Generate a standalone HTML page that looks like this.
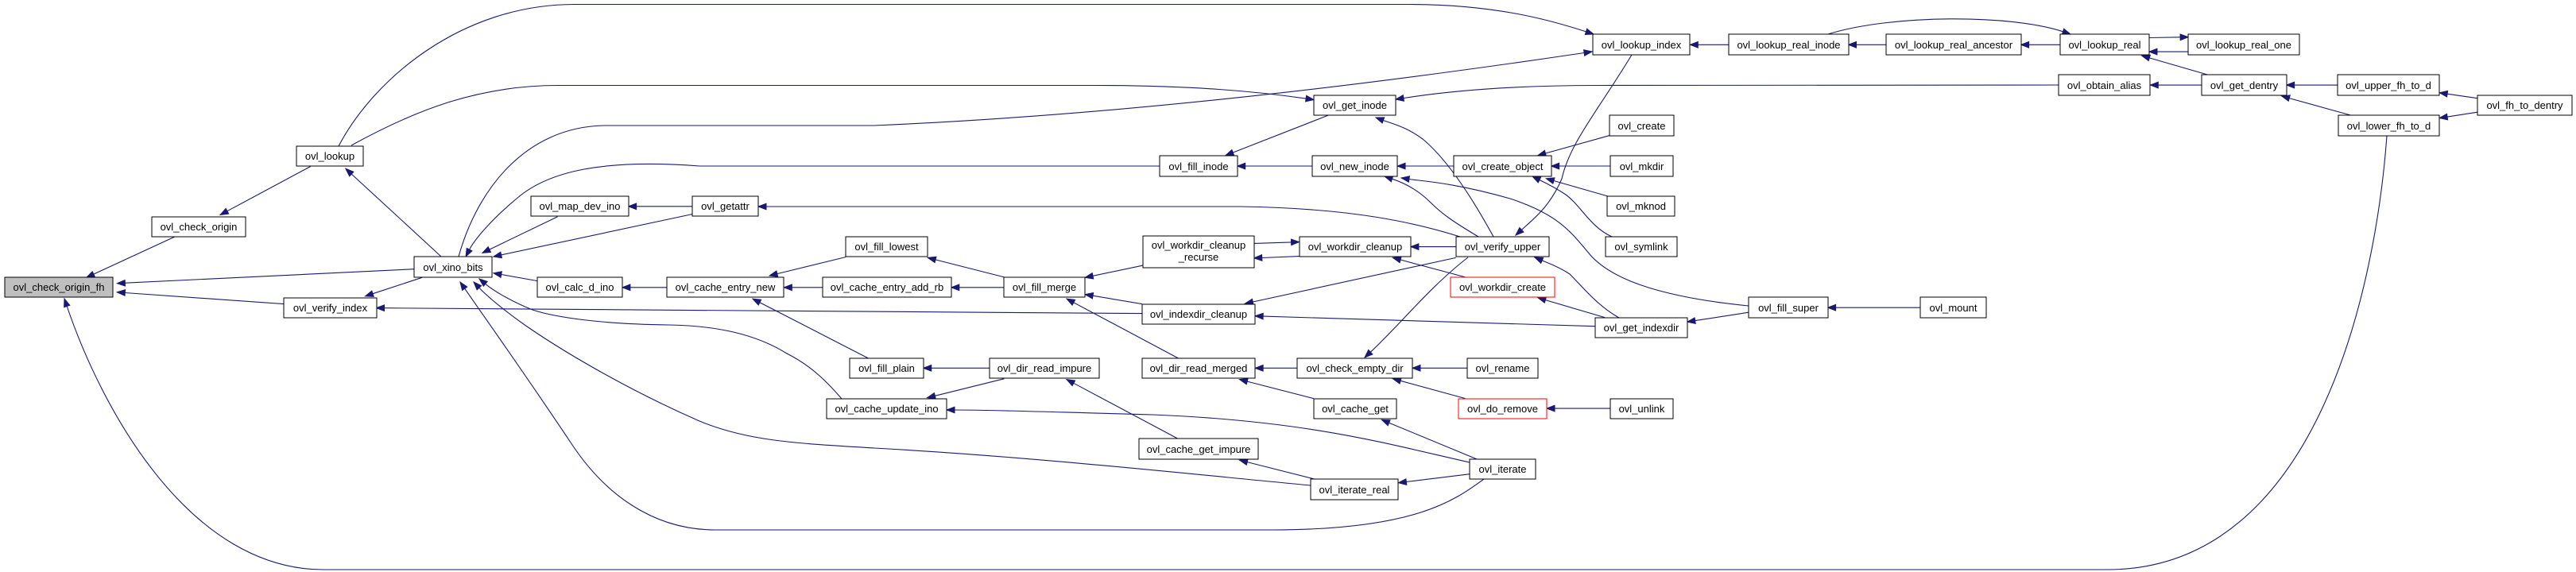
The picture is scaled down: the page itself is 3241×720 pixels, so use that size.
<!DOCTYPE html>
<html><head><meta charset="utf-8"><style>
html,body{margin:0;padding:0;background:#fff;width:3241px;height:720px;overflow:hidden}
svg{display:block}
text{font-family:"Liberation Sans",Helvetica,sans-serif;font-size:13px;fill:#000;text-anchor:middle}
rect{fill:#fff;stroke:#000;stroke-width:1}
</style></head><body>
<svg id="s" width="3241" height="720" viewBox="0 0 3241 720" xmlns="http://www.w3.org/2000/svg">
<g id="edges" fill="none" stroke="#191970" stroke-width="1.1"></g>
<g id="arrows" fill="#191970" stroke="#191970"></g>
<g id="nodes">
<rect x="6" y="349" width="136" height="25" style="fill:#bfbfbf"/><text x="74" y="366">ovl_check_origin_fh</text>
<rect x="191" y="273" width="118" height="25"/><text x="250" y="290">ovl_check_origin</text>
<rect x="373" y="184" width="84" height="25"/><text x="415" y="201">ovl_lookup</text>
<rect x="521" y="323" width="98" height="26"/><text x="570" y="341">ovl_xino_bits</text>
<rect x="357" y="375" width="117" height="25"/><text x="415.5" y="392">ovl_verify_index</text>
<rect x="668" y="247" width="123" height="25"/><text x="729.5" y="264">ovl_map_dev_ino</text>
<rect x="871" y="247" width="83" height="25"/><text x="912.5" y="264">ovl_getattr</text>
<rect x="676" y="349" width="107" height="25"/><text x="729.5" y="366">ovl_calc_d_ino</text>
<rect x="839" y="349" width="147" height="25"/><text x="912.5" y="366">ovl_cache_entry_new</text>
<rect x="1064" y="298" width="103" height="25"/><text x="1115.5" y="315">ovl_fill_lowest</text>
<rect x="1035" y="349" width="162" height="25"/><text x="1116" y="366">ovl_cache_entry_add_rb</text>
<rect x="1069" y="451" width="93" height="25"/><text x="1115.5" y="468">ovl_fill_plain</text>
<rect x="1040" y="502" width="151" height="25"/><text x="1115.5" y="519">ovl_cache_update_ino</text>
<rect x="2004" y="43" width="122" height="26"/><text x="2065" y="61">ovl_lookup_index</text>
<rect x="1653" y="120" width="103" height="25"/><text x="1704.5" y="137">ovl_get_inode</text>
<rect x="1459" y="196" width="98" height="26"/><text x="1508" y="214">ovl_fill_inode</text>
<rect x="1651" y="196" width="107" height="26"/><text x="1704.5" y="214">ovl_new_inode</text>
<rect x="1829" y="196" width="123" height="26"/><text x="1890.5" y="214">ovl_create_object</text>
<rect x="2025" y="145" width="81" height="26"/><text x="2065.5" y="163">ovl_create</text>
<rect x="2026" y="196" width="79" height="26"/><text x="2065.5" y="214">ovl_mkdir</text>
<rect x="2022" y="247" width="85" height="25"/><text x="2064.5" y="264">ovl_mknod</text>
<rect x="2020" y="298" width="90" height="25"/><text x="2065" y="315">ovl_symlink</text>
<rect x="1438" y="297" width="140" height="40"/><text x="1508" y="313">ovl_workdir_cleanup</text><text x="1508" y="328">_recurse</text>
<rect x="1635" y="298" width="140" height="25"/><text x="1705" y="315">ovl_workdir_cleanup</text>
<rect x="1832" y="298" width="117" height="25"/><text x="1890.5" y="315">ovl_verify_upper</text>
<rect x="1263" y="349" width="102" height="25"/><text x="1314" y="366">ovl_fill_merge</text>
<rect x="1825" y="349" width="131" height="25" style="stroke:#f00"/><text x="1890.5" y="366">ovl_workdir_create</text>
<rect x="1437" y="383" width="142" height="25"/><text x="1508" y="400">ovl_indexdir_cleanup</text>
<rect x="2007" y="400" width="116" height="25"/><text x="2065" y="417">ovl_get_indexdir</text>
<rect x="1245" y="451" width="138" height="25"/><text x="1314" y="468">ovl_dir_read_impure</text>
<rect x="1437" y="451" width="142" height="25"/><text x="1508" y="468">ovl_dir_read_merged</text>
<rect x="1632" y="451" width="145" height="25"/><text x="1704.5" y="468">ovl_check_empty_dir</text>
<rect x="1846" y="451" width="89" height="25"/><text x="1890.5" y="468">ovl_rename</text>
<rect x="1653" y="502" width="104" height="25"/><text x="1705" y="519">ovl_cache_get</text>
<rect x="1835" y="502" width="111" height="25" style="stroke:#f00"/><text x="1890.5" y="519">ovl_do_remove</text>
<rect x="2026" y="502" width="79" height="25"/><text x="2065.5" y="519">ovl_unlink</text>
<rect x="1433" y="552" width="150" height="26"/><text x="1508" y="570">ovl_cache_get_impure</text>
<rect x="1849" y="578" width="83" height="25"/><text x="1890.5" y="595">ovl_iterate</text>
<rect x="1649" y="603" width="110" height="26"/><text x="1704" y="621">ovl_iterate_real</text>
<rect x="2175" y="43" width="151" height="26"/><text x="2250.5" y="61">ovl_lookup_real_inode</text>
<rect x="2373" y="43" width="170" height="26"/><text x="2458" y="61">ovl_lookup_real_ancestor</text>
<rect x="2592" y="43" width="112" height="26"/><text x="2648" y="61">ovl_lookup_real</text>
<rect x="2753" y="43" width="140" height="26"/><text x="2823" y="61">ovl_lookup_real_one</text>
<rect x="2590" y="94" width="115" height="26"/><text x="2647.5" y="112">ovl_obtain_alias</text>
<rect x="2770" y="94" width="107" height="26"/><text x="2823.5" y="112">ovl_get_dentry</text>
<rect x="2941" y="94" width="128" height="26"/><text x="3005" y="112">ovl_upper_fh_to_d</text>
<rect x="3117" y="120" width="119" height="25"/><text x="3176.5" y="137">ovl_fh_to_dentry</text>
<rect x="2942" y="145" width="127" height="26"/><text x="3005.5" y="163">ovl_lower_fh_to_d</text>
<rect x="2200" y="374" width="100" height="26"/><text x="2250" y="392">ovl_fill_super</text>
<rect x="2416" y="374" width="83" height="26"/><text x="2457.5" y="392">ovl_mount</text>
</g>
</svg>
<script>
(function(){
var E=[
"1:313,646 1:155,757","1:557,454 1:395,586","1:743,734 1:210,773","1:509,829 1:210,797",
"1:757,757 1:655,808","1:792,701 1:620,460",
"M426,184 C470,100 580,5.5 723,5.5 L1773,5.5 C1880,5.5 1950,25 2005,43",
"M442,183 C520,140 600,107.5 702,107.5 L1374,107.5 C1500,107.5 1580,115 1653,125.5",
"M577,323 C600,240 660,160 760,158 L1100,158 C1400,145 1700,110 2003,65",
"M1459,209 L880,209 C760,200 690,215 650,250 C620,275 598,300 586,323",
"M1837,298 C1780,280 1700,262 1560,260 L954,260",
"1:1000,591 1:865,690","1:1242,584 1:885,700","1:1242,563 1:1127,563",
"1:963,766 1:885,745","1:1196,784 1:1116,784","1:1517,701 1:1380,752",
"1:1475,784 1:1406,784","1:1557,977 1:1350,815",
"2:480,855 1:675,840",
"M1059,502 C1040,480 1020,460 990,445 C950,420 900,410 842,409 C760,408 700,400 670,390 C640,378 620,365 603,351",
"M1649,611 C1500,597 1300,575 1100,564 C1000,558 940,555 880,530 C800,495 720,450 663,411 C640,395 615,375 596,355",
"M1867,603 C1830,630 1780,667 1600,667 L900,667 C820,667 760,620 720,560 C660,470 610,400 579,355",
"M3003,171 C2990,350 2920,717 2651,717 L407,717 C240,717 130,520 81,376",
"2:1532,122 2:1463,122",
"M2053,69 C2010,140 1975,180 1965,225 C1950,260 1930,275 1907,296",
"M2590,107 L2012,107.5 C1900,107.5 1820,115 1756,125",
"2:815,314 2:630,424",
"M1879,298 C1850,245 1820,200 1790,175 C1770,160 1750,155 1731,148",
"2:785,453 2:651,453","2:1039,453 2:938,453",
"M1860,298 C1830,280 1815,270 1800,255 C1780,235 1760,228 1742,222",
"M2200,385 C2100,375 2030,355 2000,320 C1975,290 1960,270 1900,250 C1830,230 1790,228 1763,224",
"2:1318,370 2:1190,424","2:1320,453 2:1214,453","2:1315,535 2:1205,487",
"M2028,298 C2000,285 1990,260 1970,245 C1955,235 1940,228 1928,222",
"2:681,664 2:762,660","2:762,699 2:681,704","2:1043,673 2:962,673","2:1060,756 2:930,703",
"2:1043,703 2:665,828","2:482,724 2:378,757","2:233,756 2:96,703","2:233,784 2:138,784",
"2:480,829 2:378,803","2:545,977 2:345,815","2:1293,890 2:683,862","2:1310,866 2:1190,812",
"M2037,400 C2010,385 1990,360 1975,345 C1960,335 1945,330 1931,324",
"3:0,852 2:1458,878",
"M1847,324 C1800,360 1760,410 1717,450",
"2:207,1004 2:88,1004","2:233,1033 2:95,1085","2:758,1004 2:683,1004","2:788,1087 2:655,1035",
"2:1063,1004 2:965,1004","2:1060,1087 2:930,1033","2:1320,1114 2:1206,1114",
"2:545,1197 2:345,1035",
"M1849,582 C1750,560 1650,530 1450,522 C1300,518 1250,516 1191,516",
"2:1080,1252 2:910,1145","2:790,1307 2:655,1255","2:1068,1293 2:940,1317",
"3:261,122 3:189,122","3:590,122 3:516,122",
"M2300,43 C2380,18 2530,18 2605,43",
"3:759,103 3:833,101","3:833,141 3:759,141","3:870,204 3:745,152","3:858,232 3:761,232",
"3:1116,232 3:1019,232","3:1140,314 3:1010,262","3:1381,268 3:1309,253","3:1381,306 3:1309,322",
"3:326,839 3:150,839"];
function cv(t){var a=t.split(':'),z=+a[0],b=a[1].split(','),x=+b[0],y=+b[1];
var X=z==1?x/1.4255:z==2?1100+x/1.4255:2200+x/1.506;return [X,y/2.167];}
var ge=document.getElementById('edges'),ga=document.getElementById('arrows'),NS='http://www.w3.org/2000/svg';
E.forEach(function(s){
var d,t,q,bx,by,dx,dy,L;
if(s.charAt(0)=='M'){
 var tk=s.match(/[MLC]|-?[\d.]+/g);var nums=[];tk.forEach(function(k){if(!/[MLC]/.test(k))nums.push(+k);});
 var n=nums.length;t=[nums[n-2],nums[n-1]];q=[nums[n-4],nums[n-3]];
 dx=t[0]-q[0];dy=t[1]-q[1];L=Math.sqrt(dx*dx+dy*dy)||1;dx/=L;dy/=L;
 bx=t[0]-dx*10;by=t[1]-dy*10;
 var idx=s.lastIndexOf(' ');var last=s.substring(idx+1);var pre=(last.charAt(0)=='L')?'L':'';
 d=s.substring(0,idx)+' '+pre+bx.toFixed(1)+','+by.toFixed(1);
}else{
 var p=s.split(' ').map(cv);q=p[0];t=p[1];
 dx=t[0]-q[0];dy=t[1]-q[1];L=Math.sqrt(dx*dx+dy*dy)||1;dx/=L;dy/=L;
 bx=t[0]-dx*10;by=t[1]-dy*10;
 d='M'+q[0].toFixed(1)+','+q[1].toFixed(1)+' L'+bx.toFixed(1)+','+by.toFixed(1);
}
var e=document.createElementNS(NS,'path');e.setAttribute('d',d);ge.appendChild(e);
var AW=3.8;var a=document.createElementNS(NS,'polygon');
a.setAttribute('points',t[0]+','+t[1]+' '+(bx-dy*AW)+','+(by+dx*AW)+' '+(bx+dy*AW)+','+(by-dx*AW));ga.appendChild(a);
});
})();
</script>
</body></html>
